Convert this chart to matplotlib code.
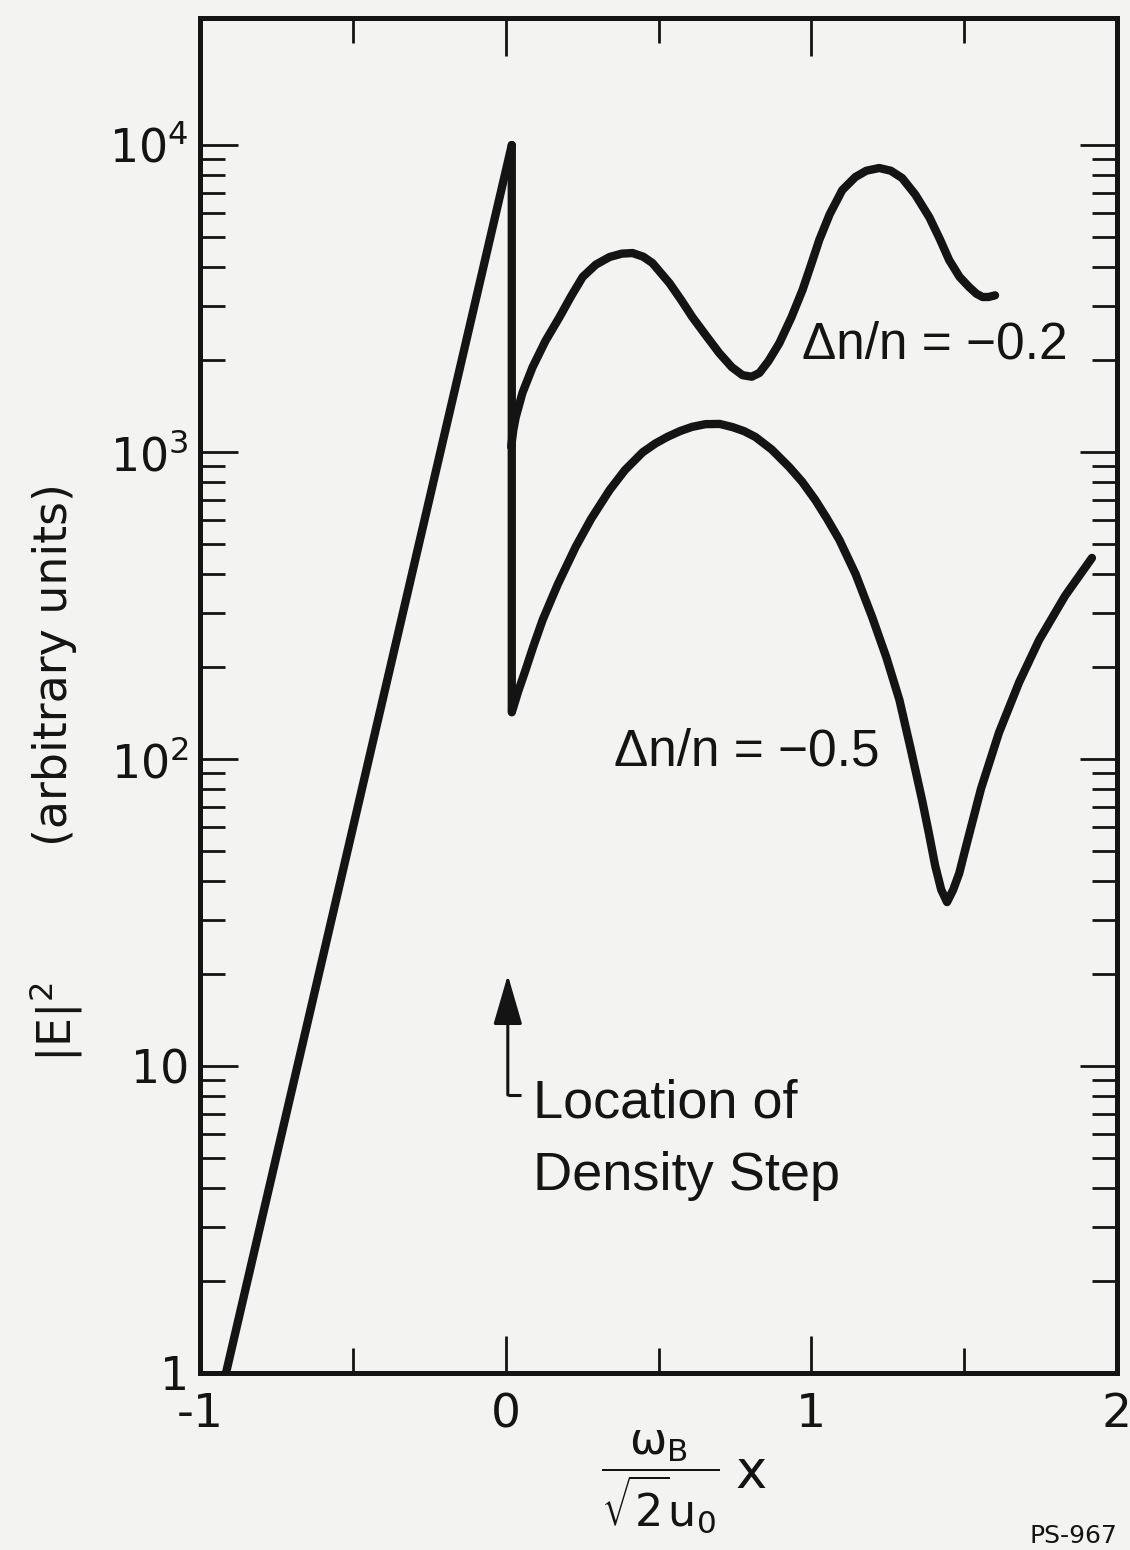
import matplotlib
matplotlib.use("Agg")
import matplotlib.pyplot as plt
from matplotlib.ticker import FixedLocator, NullFormatter

plt.rcParams["mathtext.default"] = "regular"

# ---- data ----
x_rise = [-0.915, 0.02]
y_rise = [1.0, 10000.0]

x_m05 = [0.02, 0.02, 0.04, 0.065, 0.09, 0.121, 0.17, 0.229, 0.28, 0.340, 0.39, 0.448,
         0.49, 0.53, 0.572, 0.61, 0.654, 0.70, 0.742, 0.78, 0.817, 0.87, 0.928, 0.97,
         1.013, 1.05, 1.092, 1.145, 1.199, 1.245, 1.288, 1.325, 1.363, 1.385, 1.405,
         1.425, 1.444, 1.464, 1.484, 1.503, 1.555, 1.614, 1.68, 1.745, 1.83, 1.918]
y_m05 = [10000, 142, 165, 195, 232, 284, 370, 491, 607, 752, 873, 998,
         1067, 1122, 1172, 1208, 1233, 1235, 1206, 1170, 1120, 1020, 893, 800,
         698, 610, 517, 400, 290, 215, 156, 108, 73, 57, 45,
         37.5, 34.2, 37.5, 42.5, 50.5, 80, 122, 178, 244, 340, 452]

x_m02 = [0.018, 0.025, 0.033, 0.055, 0.088, 0.13, 0.176, 0.215, 0.252, 0.295, 0.340,
         0.38, 0.415, 0.45, 0.480, 0.536, 0.575, 0.611, 0.655, 0.699, 0.74, 0.775,
         0.805, 0.830, 0.86, 0.895, 0.935, 0.971, 1.0, 1.026, 1.06, 1.101, 1.144,
         1.18, 1.222, 1.26, 1.297, 1.34, 1.386, 1.42, 1.451, 1.485, 1.516, 1.54,
         1.560, 1.58, 1.601]
y_m02 = [1040, 1180, 1300, 1560, 1890, 2300, 2750, 3230, 3720, 4080, 4320,
         4430, 4450, 4330, 4130, 3550, 3120, 2750, 2400, 2100, 1890, 1780,
         1760, 1810, 1980, 2260, 2750, 3370, 4100, 4910, 5950, 7130, 7870,
         8250, 8420, 8250, 7810, 6900, 5820, 4950, 4220, 3720, 3450, 3280,
         3200, 3200, 3240]

x_ticks = [-1, 0, 1, 2]
x_ticklabels = ["-1", "0", "1", "2"]
x_minor = [-0.5, 0.5, 1.5]
y_ticks = [1, 10, 100, 1000, 10000]
y_ticklabels = ["1", "10", r"$10^2$", r"$10^3$", r"$10^4$"]
y_minor = [k * 10 ** e for e in range(4) for k in range(2, 10)]

label_m02 = "Δn/n = −0.2"
label_m05 = "Δn/n = −0.5"
step_text = ["Location of", "Density Step"]

# ---- figure ----
W, H = 1130, 1550
BG = "#f3f3f1"
INK = "#141414"
fig = plt.figure(figsize=(W / 100, H / 100), dpi=100, facecolor=BG)
ax = fig.add_axes([200 / W, 1 - 1373 / H, 917 / W, (1373 - 18) / H])
ax.set_facecolor(BG)
ax.set_yscale("log")
ax.set_xlim(-1, 2)
ax.set_ylim(1, 10 ** 4.414)

lw = 6.0
kw = dict(color=INK, lw=lw, solid_joinstyle="round", solid_capstyle="round")
ax.plot(x_rise, y_rise, **kw)
ax.plot(x_m05, y_m05, **kw)
ax.plot(x_m02, y_m02, **kw)

for s in ax.spines.values():
    s.set_linewidth(3.6)
    s.set_color(INK)

ax.xaxis.set_major_locator(FixedLocator(x_ticks))
ax.set_xticklabels(x_ticklabels)
ax.xaxis.set_minor_locator(FixedLocator(x_minor))
ax.xaxis.set_minor_formatter(NullFormatter())
ax.yaxis.set_major_locator(FixedLocator(y_ticks))
ax.set_yticklabels(y_ticklabels)
ax.yaxis.set_minor_locator(FixedLocator(y_minor))
ax.yaxis.set_minor_formatter(NullFormatter())

ax.tick_params(which="both", direction="in", top=True, right=True, color=INK)
ax.tick_params(which="major", length=27, width=2.0)
ax.tick_params(which="minor", length=18, width=2.0)
ax.tick_params(axis="x", which="major", labelsize=34, pad=14, labelcolor=INK)
ax.tick_params(axis="y", which="major", labelsize=33, pad=8, labelcolor=INK)

tfam = ["Liberation Sans", "DejaVu Sans"]
ax.text(0.97, 2023, label_m02, fontsize=37, family=tfam, color=INK, ha="left", va="baseline")
ax.text(0.356, 95.5, label_m05, fontsize=37, family=tfam, color=INK, ha="left", va="baseline")
ax.text(0.088, 6.82, step_text[0], fontsize=39, family=tfam, color=INK, ha="left", va="baseline")
ax.text(0.088, 3.95, step_text[1], fontsize=39, family=tfam, color=INK, ha="left", va="baseline")

# arrow marking the density step
ax.annotate("", xy=(0.007, 19.8), xytext=(0.007, 8.05),
            arrowprops=dict(arrowstyle="-|>,head_length=1.55,head_width=0.45",
                            mutation_scale=20, lw=2.2, color=INK,
                            shrinkA=0, shrinkB=0))
ax.plot([0.007, 0.049], [8.05, 8.05], color=INK, lw=2.2, solid_capstyle="butt")

# axis labels
fig.text(55 / W, 1 - 665 / H, "(arbitrary units)", rotation=90, fontsize=33,
         ha="center", va="center", color=INK)
fig.text(55 / W, 1 - 1022 / H, r"|E|$^2$", rotation=90, fontsize=33,
         ha="center", va="center", color=INK)
fig.text(660 / W, 1 - 1482 / H, r"$\dfrac{\omega_B}{\sqrt{2}u_0}$", fontsize=32,
         ha="center", va="center", color=INK)
fig.text(751 / W, 1 - 1473 / H, "x", fontsize=38, ha="center", va="center", color=INK)
fig.text(1030 / W, 1 - 1543 / H, "PS-967", fontsize=18, ha="left", va="baseline", color=INK)

fig.savefig("out.png", dpi=100, facecolor=BG)
